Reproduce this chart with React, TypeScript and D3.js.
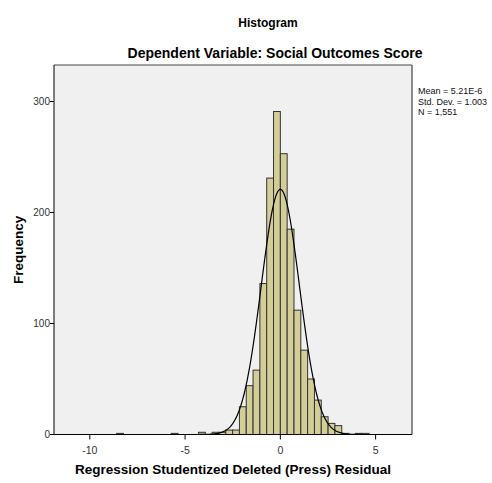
import React from "react";
import * as d3 from "d3";

const binWidth = 0.358;
const binIndex = [-24, -16, -12, -11, -10, -9, -8, -7, -6, -5, -4, -3, -2, -1, 0, 1, 2, 3, 4, 5, 6, 7, 8, 9, 10, 11, 12];
const binCount = [1, 1, 2, 0, 2, 2, 4, 4, 25, 44, 58, 136, 231, 291, 253, 185, 112, 76, 50, 31, 16, 10, 8, 1, 0, 1, 1];
const xTicks = [-10, -5, 0, 5];
const yTicks = [0, 100, 200, 300];
const statLines = ["Mean = 5.21E-6", "Std. Dev. = 1.003", "N = 1,551"];
const mean = 5.21e-6;
const sd = 1.003;
const n = 1551;

const W = 492;
const H = 483;
const L = 54, R = 412, T = 65, B = 434.5;
const FONT = "'Liberation Sans', Arial, sans-serif";

export default function App() {
  const x = d3.scaleLinear().domain([-11.88, 6.91]).range([L, R]);
  const y = d3.scaleLinear().domain([0, 332.9]).range([B, T]);
  const bins = binIndex.map((k, i) => ({ x0: k * binWidth, x1: (k + 1) * binWidth, c: binCount[i] }));
  const pts = d3.range(-11.88, 6.91, 0.02).map((v) => [v, (n * binWidth) / (sd * Math.sqrt(2 * Math.PI)) * Math.exp(-0.5 * ((v - mean) / sd) ** 2)] as [number, number]);
  const line = d3.line<[number, number]>().x((d) => x(d[0])).y((d) => y(d[1]));
  return (
    <svg width={W} height={H} style={{ position: "absolute", left: 0, top: 0, background: "#fff" }} fontFamily={FONT}>
      <rect x={0} y={0} width={W} height={H} fill="#fff" />
      <rect x={L} y={T} width={R - L} height={B - T} fill="#f0f0f0" />
      {bins.filter((b) => b.c > 0).map((b, i) => (
        <rect key={i} x={x(b.x0)} y={y(b.c)} width={x(b.x1) - x(b.x0)} height={y(0) - y(b.c)} fill="#d3ce97" stroke="#333" strokeWidth={1} />
      ))}
      <path d={line(pts) || ""} fill="none" stroke="#000" strokeWidth={1.2} />
      <line x1={L} x2={R} y1={T} y2={T} stroke="#444" strokeWidth={1} />
      <line x1={R} x2={R} y1={T} y2={B} stroke="#666" strokeWidth={1.5} />
      <line x1={L} x2={L} y1={T} y2={B} stroke="#000" strokeWidth={1} />
      <line x1={L} x2={R} y1={B} y2={B} stroke="#000" strokeWidth={1} />
      {yTicks.map((t) => (
        <g key={t}>
          <line x1={L - 4} x2={L} y1={y(t)} y2={y(t)} stroke="#000" />
          <text x={L - 4} y={y(t) + 3.5} fontSize={10} textAnchor="end" fill="#333">{t}</text>
        </g>
      ))}
      {xTicks.map((t) => (
        <g key={t}>
          <line x1={x(t)} x2={x(t)} y1={B} y2={B + 5} stroke="#000" />
          <text x={x(t)} y={B + 19} fontSize={10.5} textAnchor="middle" fill="#333">{t}</text>
        </g>
      ))}
      <text x={268} y={27} fontSize={12} fontWeight="bold" textAnchor="middle">Histogram</text>
      <text x={275} y={58} fontSize={14} fontWeight="bold" textAnchor="middle">Dependent Variable: Social Outcomes Score</text>
      <text x={(L + R) / 2} y={474} fontSize={13.5} fontWeight="bold" textAnchor="middle">Regression Studentized Deleted (Press) Residual</text>
      <text transform={`translate(23,${(T + B) / 2}) rotate(-90)`} fontSize={13.5} fontWeight="bold" textAnchor="middle">Frequency</text>
      {statLines.map((s, i) => (
        <text key={i} x={418} y={94 + i * 10.5} fontSize={9} fill="#111">{s}</text>
      ))}
    </svg>
  );
}
